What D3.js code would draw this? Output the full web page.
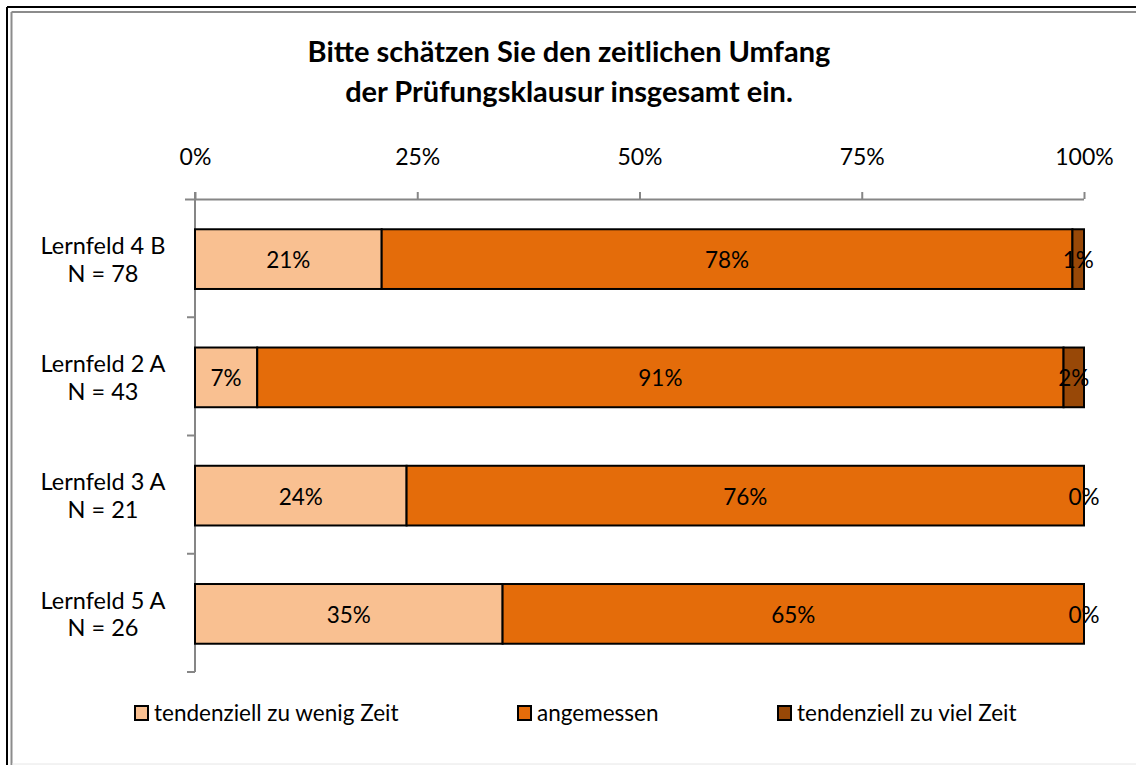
<!DOCTYPE html>
<html>
  <head>
    <meta charset="UTF-8">
    <title>Prüfungsklausur</title>
    <script src="https://d3js.org/d3.v7.min.js"></script>
    <style>
      body { margin: 0; background: #fff; }
      text { font-family: Lato, "Open Sans", sans-serif; fill: #000; }
    </style>
  </head>
  <body>
    <div id="chart-container"></div>
  <script type="text/javascript">

    // Data (share of answers per group)
    const groups = ["Lernfeld 4 B", "Lernfeld 2 A", "Lernfeld 3 A", "Lernfeld 5 A"];
    const counts = ["N = 78", "N = 43", "N = 21", "N = 26"];
    const series = ["tendenziell zu wenig Zeit", "angemessen", "tendenziell zu viel Zeit"];
    const zuWenig = [21.0, 7.0, 23.8, 34.6];
    const angemessen = [77.7, 90.7, 76.2, 65.4];
    const zuViel = [1.3, 2.3, 0, 0];
    const ticks = [0, 25, 50, 75, 100];
    const titleLines = ["Bitte schätzen Sie den zeitlichen Umfang", "der Prüfungsklausur insgesamt ein."];

    const colours = ["#F9C091", "#E46C0A", "#984807"];

    const width = 1136;
    const height = 765;
    const margin = ({top: 199, right: 52, bottom: 93, left: 195});

    const rows = groups.map((g, i) => ({
        group: g, n: counts[i],
        values: [zuWenig[i], angemessen[i], zuViel[i]]
    }));

    const x = d3.scaleLinear()
        .domain([0, 100])
        .range([margin.left, width - margin.right]);

    const y = d3.scaleBand()
        .domain(groups)
        .range([margin.top, height - margin.bottom]);

    const barH = y.bandwidth() * 0.505;

    const svg = d3.select("#chart-container")
        .append("svg")
        .attr("width", width)
        .attr("height", height);

    // frame
    svg.append("line").attr("x1", 7).attr("x2", width).attr("y1", 7).attr("y2", 7)
        .attr("stroke", "#000").attr("stroke-width", 2);
    svg.append("line").attr("x1", 7).attr("x2", 7).attr("y1", 7).attr("y2", height)
        .attr("stroke", "#000").attr("stroke-width", 2);
    svg.append("line").attr("x1", 11.5).attr("x2", width).attr("y1", 12).attr("y2", 12)
        .attr("stroke", "#8c8c8c").attr("stroke-width", 2);
    svg.append("line").attr("x1", 11.5).attr("x2", 11.5).attr("y1", 12).attr("y2", height)
        .attr("stroke", "#8c8c8c").attr("stroke-width", 2);
    svg.append("line").attr("x1", 12).attr("x2", width).attr("y1", 764).attr("y2", 764)
        .attr("stroke", "#e6e6e6").attr("stroke-width", 1);

    // title
    svg.append("g").selectAll("text")
        .data(titleLines)
        .join("text")
        .attr("x", 569)
        .attr("y", (d, i) => 62 + i * 40)
        .attr("text-anchor", "middle")
        .attr("font-size", 29)
        .attr("font-weight", "bold")
        .text(d => d);

    // top axis
    const xAxis = g => g
        .attr("transform", `translate(0,${margin.top})`)
        .call(d3.axisTop(x).tickValues(ticks).tickSize(7).tickSizeOuter(0).tickFormat(d => d + "%"))
        .call(g => g.select(".domain").attr("d", `M${margin.left - 10},0.5H${x(100)}`))
        .call(g => g.selectAll("line, path").attr("stroke", "#868686").attr("stroke-width", 2))
        .call(g => g.selectAll("text").attr("font-size", 23).attr("y", -34).attr("dy", 0)
            .attr("font-family", "Lato, sans-serif"));
    svg.append("g").call(xAxis);

    // left axis: vertical line + ticks at category boundaries
    const edges = groups.map(g => y(g)).concat([y.range()[1]]);
    const yAxis = svg.append("g").attr("stroke", "#868686").attr("stroke-width", 2);
    yAxis.append("line")
        .attr("x1", margin.left).attr("x2", margin.left)
        .attr("y1", margin.top - 7).attr("y2", y.range()[1]);
    yAxis.selectAll("line.tick")
        .data(edges.slice(1))
        .join("line")
        .attr("class", "tick")
        .attr("x1", margin.left - 8).attr("x2", margin.left)
        .attr("y1", d => d).attr("y2", d => d);

    // category labels
    const labels = svg.append("g").selectAll("text")
        .data(rows)
        .join("text")
        .attr("text-anchor", "middle")
        .attr("font-size", 23.5)
        .attr("transform", d => `translate(103,${y(d.group) + y.bandwidth() / 2 + 1})`);
    labels.append("tspan").attr("x", 0).attr("dy", "-0.22em").text(d => d.group);
    labels.append("tspan").attr("x", 0).attr("dy", "1.18em").text(d => d.n);

    // stacked bars
    const stackRows = rows.map(r => {
        let acc = 0;
        return r.values.map((v, k) => {
            const seg = {group: r.group, k, v, x0: acc, x1: acc + v};
            acc += v;
            return seg;
        });
    }).flat();

    svg.append("g").selectAll("rect")
        .data(stackRows)
        .join("rect")
        .attr("x", d => x(d.x0))
        .attr("width", d => x(d.x1) - x(d.x0))
        .attr("y", d => y(d.group) + (y.bandwidth() - barH) / 2 + 1)
        .attr("height", barH)
        .attr("fill", d => colours[d.k])
        .attr("stroke", "#000")
        .attr("stroke-width", 2);

    svg.append("g").selectAll("text")
        .data(stackRows)
        .join("text")
        .attr("x", d => x((d.x0 + d.x1) / 2))
        .attr("y", d => y(d.group) + y.bandwidth() / 2 + 2)
        .attr("dy", "0.35em")
        .attr("text-anchor", "middle")
        .attr("font-size", 22.5)
        .text(d => Math.round(d.v) + "%");

    // legend
    const legendX = [135, 518, 778];
    const legend = svg.append("g").selectAll("g")
        .data(series)
        .join("g")
        .attr("transform", (d, i) => `translate(${legendX[i]},713)`);
    legend.append("rect")
        .attr("x", 0).attr("y", -7)
        .attr("width", 13).attr("height", 14)
        .attr("fill", (d, i) => colours[i])
        .attr("stroke", "#000")
        .attr("stroke-width", 2);
    legend.append("text")
        .attr("x", 19)
        .attr("dy", "0.35em")
        .attr("font-size", 22.5)
        .text(d => d);

  </script>
  </body>
</html>
